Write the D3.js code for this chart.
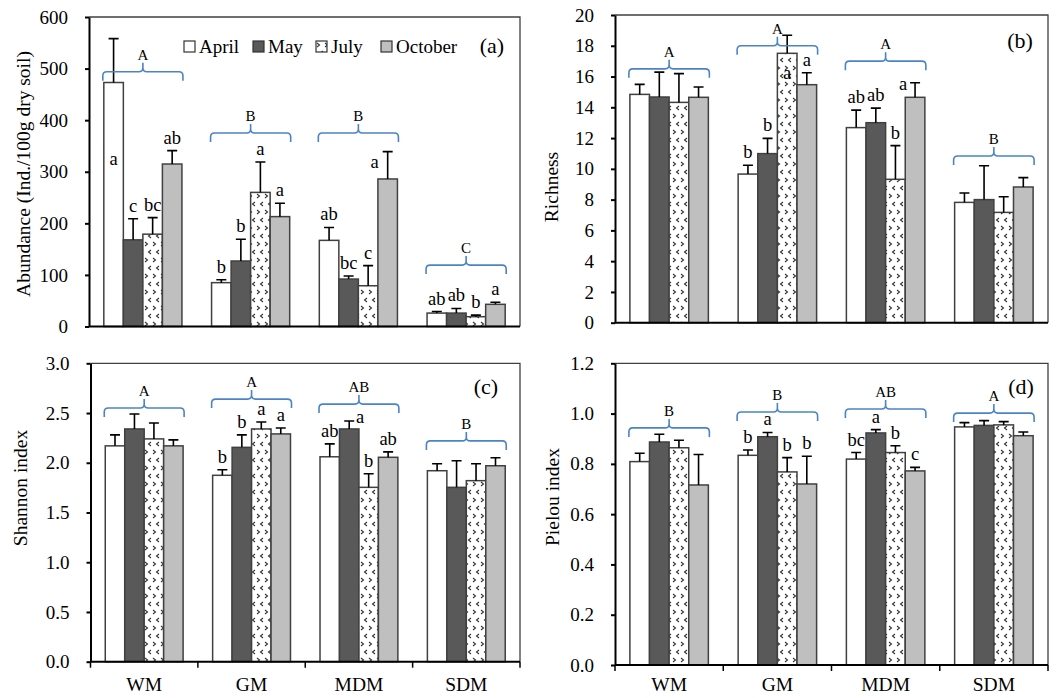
<!DOCTYPE html>
<html>
<head>
<meta charset="utf-8">
<title>Soil fauna by site and month</title>
<style>
body { margin: 0; background: #fff; }
svg { display: block; font-family: "Liberation Serif", "Times New Roman", serif; }
.frame { fill: none; stroke: #404040; stroke-width: 1.3px; }
.axis path, .axis line { stroke: #000; stroke-width: 2px; }
.axis text { font-family: "Liberation Serif", serif; fill: #000; }
.bar { stroke: #404040; stroke-width: 1.5px; }
.err { stroke: #000; stroke-width: 1.6px; fill: none; }
.brace { fill: none; stroke: #4a84c6; stroke-width: 1.6px; }
</style>
<script src="https://cdn.jsdelivr.net/npm/d3@7"></script>
</head>
<body>
<svg width="1062" height="698"></svg>
<script>
// categories
var sites = ["WM", "GM", "MDM", "SDM"];
var months = ["April", "May", "July", "October"];

// (a) abundance, rows = site, cols = month
var abundance    = [[473, 168, 179, 315], [85, 127, 260, 213], [167, 92, 79, 286], [26, 26, 19, 43]];
var abundanceErr = [[85, 41, 32, 26], [5.5, 42, 59, 26], [25, 6, 39, 53], [3, 9, 3, 4]];
var abundanceLetters = [["a", "c", "bc", "ab"], ["b", "b", "a", "a"], ["ab", "bc", "c", "a"], ["ab", "ab", "b", "a"]];
var abundanceGroups = ["A", "B", "B", "C"];
var abundanceBraceAt = [494, 375, 375, 119];
var abundanceTicks = [0, 100, 200, 300, 400, 500, 600];

// (b) richness
var richness    = [[14.84, 14.67, 14.32, 14.65], [9.66, 10.99, 17.51, 15.47], [12.68, 13.0, 9.32, 14.65], [7.82, 8.0, 7.17, 8.82]];
var richnessErr = [[0.65, 1.62, 1.87, 0.67], [0.57, 0.99, 1.17, 0.78], [1.14, 0.95, 2.19, 0.95], [0.61, 2.2, 1.02, 0.61]];
var richnessLetters = [["", "", "", ""], ["b", "b", "a", "a"], ["ab", "ab", "b", "a"], ["", "", "", ""]];
var richnessGroups = ["A", "A", "A", "B"];
var richnessBraceAt = [16.5, 18.0, 17.0, 10.84];
var richnessTicks = [0, 2, 4, 6, 8, 10, 12, 14, 16, 18, 20];

// (c) shannon
var shannon    = [[2.17, 2.34, 2.24, 2.17], [1.874, 2.155, 2.34, 2.29], [2.06, 2.34, 1.753, 2.055], [1.92, 1.753, 1.82, 1.97]];
var shannonErr = [[0.11, 0.15, 0.16, 0.06], [0.056, 0.125, 0.07, 0.06], [0.13, 0.08, 0.137, 0.055], [0.07, 0.267, 0.17, 0.08]];
var shannonLetters = [["", "", "", ""], ["b", "b", "a", "a"], ["ab", "a", "b", "ab"], ["", "", "", ""]];
var shannonGroups = ["A", "A", "AB", "B"];
var shannonBraceAt = [2.55, 2.64, 2.59, 2.22];
var shannonTicks = [0, 0.5, 1.0, 1.5, 2.0, 2.5, 3.0];

// (d) pielou
var pielou    = [[0.809, 0.887, 0.864, 0.716], [0.834, 0.908, 0.768, 0.72], [0.819, 0.923, 0.845, 0.772], [0.947, 0.953, 0.955, 0.912]];
var pielouErr = [[0.033, 0.031, 0.03, 0.121], [0.021, 0.017, 0.057, 0.11], [0.026, 0.013, 0.027, 0.014], [0.017, 0.019, 0.013, 0.015]];
var pielouLetters = [["", "", "", ""], ["b", "a", "b", "b"], ["bc", "a", "b", "c"], ["", "", "", ""]];
var pielouGroups = ["B", "B", "AB", "A"];
var pielouBraceAt = [0.943, 1.006, 1.018, 1.002];
var pielouTicks = [0, 0.2, 0.4, 0.6, 0.8, 1.0, 1.2];

var svg = d3.select("svg");

var fills = { "April": "#ffffff", "May": "#595959", "July": "url(#chev)", "October": "#bfbfbf" };

// small > < marks for July
var pat = svg.append("defs").append("pattern")
    .attr("id", "chev")
    .attr("patternUnits", "userSpaceOnUse")
    .attr("width", 8).attr("height", 16);
pat.append("rect").attr("width", 8).attr("height", 16).attr("fill", "#fff");
pat.append("path").attr("d", "M1,2 L3.5,4 L1,6").attr("fill", "none").attr("stroke", "#333").attr("stroke-width", 1.1);
pat.append("path").attr("d", "M7,10 L4.5,12 L7,14").attr("fill", "none").attr("stroke", "#333").attr("stroke-width", 1.1);

var panels = [
  { values: abundance, errors: abundanceErr, letters: abundanceLetters, groups: abundanceGroups, braceAt: abundanceBraceAt,
    ticks: abundanceTicks, fmt: d3.format("d"), l: 89, r: 520, t: 17, b: 326.5,
    title: "Abundance (Ind./100g dry soil)", tx: 23, ty: 174, tag: "(a)", tagX: 492, tagY: 53, xLabels: false,
    nudge: { "0-0": [0, 133], "2-3": [-13, 23] } },
  { values: richness, errors: richnessErr, letters: richnessLetters, groups: richnessGroups, braceAt: richnessBraceAt,
    ticks: richnessTicks, fmt: d3.format("d"), l: 615, r: 1048, t: 15, b: 322.7,
    title: "Richness", tx: 551, ty: 187, tag: "(b)", tagX: 1020, tagY: 48, xLabels: false,
    nudge: { "1-2": [0, 51], "2-3": [-12, 14] } },
  { values: shannon, errors: shannonErr, letters: shannonLetters, groups: shannonGroups, braceAt: shannonBraceAt,
    ticks: shannonTicks, fmt: d3.format(".1f"), l: 90.5, r: 520, t: 363.3, b: 661.7,
    title: "Shannon index", tx: 20, ty: 488, tag: "(c)", tagX: 486, tagY: 394, xLabels: true,
    nudge: { "2-1": [11, 9] } },
  { values: pielou, errors: pielouErr, letters: pielouLetters, groups: pielouGroups, braceAt: pielouBraceAt,
    ticks: pielouTicks, fmt: d3.format(".1f"), l: 615, r: 1048, t: 363.3, b: 665,
    title: "Pielou index", tx: 552, ty: 497, tag: "(d)", tagX: 1021, tagY: 394, xLabels: true,
    nudge: {} }
];

panels.forEach(drawPanel);

function drawPanel(p) {
  var y = d3.scaleLinear()
      .domain([p.ticks[0], p.ticks[p.ticks.length - 1]])
      .range([p.b, p.t]);
  var x0 = d3.scaleBand().domain(sites).range([p.l, p.r]);
  var inner = x0.bandwidth() * 0.725;
  var x1 = d3.scaleBand().domain(months).range([0, inner]);
  var off = (x0.bandwidth() - inner) / 2;

  var g = svg.append("g");

  // top/right border of the plot area
  g.append("path").attr("class", "frame")
      .attr("d", "M" + p.l + "," + p.t + "H" + p.r + "V" + p.b);

  var rows = [];
  sites.forEach(function(s, i) {
    months.forEach(function(m, j) {
      rows.push({ site: s, month: m, i: i, j: j, v: p.values[i][j], e: p.errors[i][j], lab: p.letters[i][j] });
    });
  });

  var barX = function(d) { return x0(d.site) + off + x1(d.month); };

  g.selectAll(".bar").data(rows).enter().append("rect")
      .attr("class", "bar")
      .attr("x", barX)
      .attr("y", function(d) { return y(d.v); })
      .attr("width", x1.bandwidth())
      .attr("height", function(d) { return y(0) - y(d.v); })
      .attr("fill", function(d) { return fills[d.month]; });

  // error bars (upper only)
  g.selectAll(".err").data(rows).enter().append("path")
      .attr("class", "err")
      .attr("d", function(d) {
        var cx = barX(d) + x1.bandwidth() / 2, top = y(d.v + d.e);
        return "M" + cx + "," + y(d.v) + "V" + top + "M" + (cx - 5) + "," + top + "H" + (cx + 5);
      });

  // significance letters
  g.selectAll(".sig").data(rows.filter(function(d) { return d.lab; })).enter().append("text")
      .attr("class", "sig")
      .attr("x", function(d) {
        var n = p.nudge[d.i + "-" + d.j];
        return barX(d) + x1.bandwidth() / 2 + (n ? n[0] : 0);
      })
      .attr("y", function(d) {
        var n = p.nudge[d.i + "-" + d.j];
        return y(d.v + d.e) - 7 + (n ? n[1] : 0);
      })
      .attr("text-anchor", "middle")
      .style("font-size", "18.5px")
      .text(function(d) { return d.lab; });

  // braces with group letters
  sites.forEach(function(s, i) {
    var a = x0(s) + off - 1, c = x0(s) + off + inner + 1, m = (a + c) / 2;
    var yy = y(p.braceAt[i]), r = 4, h = 9;
    g.append("path").attr("class", "brace")
        .attr("d", "M" + a + "," + (yy + h) + "V" + (yy + r) + "Q" + a + "," + yy + " " + (a + r) + "," + yy +
          "H" + (m - r) + "Q" + m + "," + yy + " " + m + "," + (yy - r) + "V" + (yy - h) +
          "M" + m + "," + (yy - r) + "Q" + m + "," + yy + " " + (m + r) + "," + yy +
          "H" + (c - r) + "Q" + c + "," + yy + " " + c + "," + (yy + r) + "V" + (yy + h));
    g.append("text")
        .attr("x", m).attr("y", yy - 12)
        .attr("text-anchor", "middle")
        .style("font-size", "15px")
        .text(p.groups[i]);
  });

  // y axis
  g.append("g")
      .attr("class", "axis")
      .attr("transform", "translate(" + p.l + ",0)")
      .call(d3.axisLeft(y).tickValues(p.ticks).tickFormat(p.fmt).tickSize(4).tickSizeOuter(0).tickPadding(17))
      .selectAll("text").style("font-size", "19px");

  // x axis line
  g.append("line")
      .attr("x1", p.l).attr("x2", p.r).attr("y1", p.b).attr("y2", p.b)
      .attr("stroke", "#000").attr("stroke-width", 2);

  if (p.xLabels) {
    var bounds = sites.map(function(s) { return x0(s); }).concat([p.r]);
    g.selectAll(".xt").data(bounds).enter().append("line")
        .attr("x1", function(d) { return d; }).attr("x2", function(d) { return d; })
        .attr("y1", p.b).attr("y2", p.b + 6)
        .attr("stroke", "#000").attr("stroke-width", 1.5);
    g.selectAll(".xl").data(sites).enter().append("text")
        .attr("x", function(d) { return x0(d) + x0.bandwidth() / 2; })
        .attr("y", 691)
        .attr("text-anchor", "middle")
        .style("font-size", "19.5px")
        .text(function(d) { return d; });
  }

  g.append("text")
      .attr("transform", "translate(" + p.tx + "," + p.ty + ") rotate(-90)")
      .attr("text-anchor", "middle")
      .attr("dy", "0.35em")
      .style("font-size", "19.5px")
      .text(p.title);

  g.append("text")
      .attr("x", p.tagX).attr("y", p.tagY)
      .attr("text-anchor", "middle")
      .style("font-size", "22px")
      .text(p.tag);
}

// legend inside panel (a)
var legX = [184, 253, 316, 381];
var leg = svg.append("g").selectAll("g").data(months).enter().append("g")
    .attr("transform", function(d, i) { return "translate(" + legX[i] + ",41)"; });
leg.append("rect")
    .attr("width", 11).attr("height", 11)
    .attr("fill", function(d) { return fills[d]; })
    .attr("stroke", "#333").attr("stroke-width", 1.2);
leg.append("text")
    .attr("x", 15).attr("y", 12)
    .style("font-size", "19px")
    .text(function(d) { return d; });
</script>
</body>
</html>
